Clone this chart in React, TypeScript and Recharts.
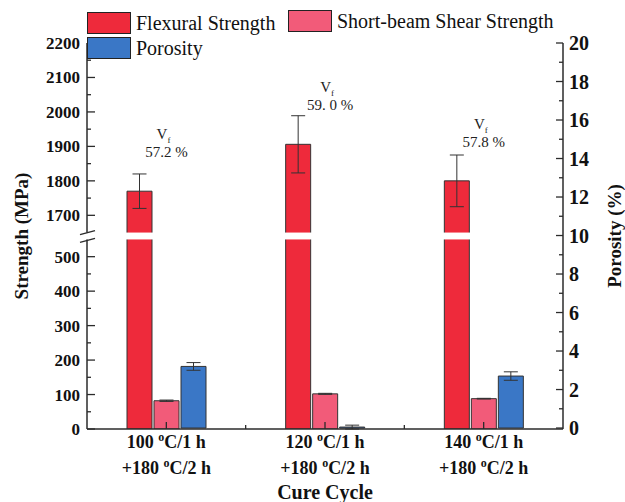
import {
  Bar,
  BarChart,
  ErrorBar,
  Label,
  LabelList,
  ReferenceArea,
  XAxis,
  YAxis,
} from "recharts";

const cycleStage1 = ["100 °C/1 h", "120 °C/1 h", "140 °C/1 h"];
const cycleStage2 = "+180 °C/2 h";
const flexural = [1770, 1906, 1800];
const flexuralErr = [50, 83, 75];
const shear = [82, 102, 88];
const shearErr = [2, 1.5, 1];
const porosity = [3.2, 0.05, 2.7];
const porosityErr = [0.2, 0.1, 0.22];
const fiberFraction = ["57.2 %", "59. 0 %", "57.8 %"];

const lowerTicks = [0, 100, 200, 300, 400, 500];
const upperTicks = [1700, 1800, 1900, 2000, 2100, 2200];
const porosityTicks = [0, 2, 4, 6, 8, 10, 12, 14, 16, 18, 20];

// broken axis: 0-550 | 1650-2200
const BREAK_LOW = 550;
const BREAK_HIGH = 1650;
const BREAK_GAP = 20;
const SHIFT = BREAK_HIGH - BREAK_LOW - BREAK_GAP;
const toPlot = (v: number) => (v <= BREAK_LOW ? v : v - SHIFT);
const fromPlot = (t: number) => (t <= BREAK_LOW ? t : t + SHIFT);

const W = 625;
const H = 502;
const LEFT_W = 87;
const RIGHT_W = 62;
const SERIF = '"Liberation Serif", "Times New Roman", serif';
const INK = "#2b2b2b";

const RED = "#ee2a3b";
const PINK = "#f25b79";
const BLUE = "#3a77c6";

const data = cycleStage1.map((c, i) => ({
  cycle: c,
  flex: toPlot(flexural[i]),
  flexErr: flexuralErr[i],
  shear: shear[i],
  shearErr: shearErr[i],
  poro: porosity[i],
  poroErr: porosityErr[i],
}));

const leftTicks: number[] = [];
for (let v = 0; v <= 500; v += 50) leftTicks.push(toPlot(v));
for (let v = 1700; v <= 2200; v += 50) leftTicks.push(toPlot(v));
const leftMajor = new Set([...lowerTicks, ...upperTicks].map(toPlot));

const rightTicks: number[] = [];
for (let v = 0; v <= 20; v += 1) rightTicks.push(v);
const rightMajor = new Set(porosityTicks);

function LeftTick({ x, y, payload }: any) {
  const major = leftMajor.has(payload.value);
  return (
    <g>
      <line x1={x} x2={x + (major ? 8 : 4)} y1={y} y2={y} stroke={INK} strokeWidth={1.3} />
      {major && (
        <text x={x - 7} y={y} dy={6} textAnchor="end" fontFamily={SERIF} fontWeight="bold" fontSize={17} fill="#111">
          {fromPlot(payload.value)}
        </text>
      )}
    </g>
  );
}

function RightTick({ x, y, payload }: any) {
  const major = rightMajor.has(payload.value);
  return (
    <g>
      <line x1={x} x2={x - (major ? 7 : 4)} y1={y} y2={y} stroke={INK} strokeWidth={1.3} />
      {major && (
        <text x={x + 6} y={y} dy={7} textAnchor="start" fontFamily={SERIF} fontWeight="bold" fontSize={20} fill="#111">
          {payload.value}
        </text>
      )}
    </g>
  );
}

function degreeText(s: string) {
  const [a, b] = s.split("°");
  return [
    <tspan key="a">{a}</tspan>,
    <tspan key="o" fontSize={12} dy={-7}>o</tspan>,
    <tspan key="b" dy={7}>{b}</tspan>,
  ];
}

function CycleTick({ x, y, payload, index }: any) {
  const band = (W - LEFT_W - RIGHT_W) / cycleStage1.length;
  return (
    <g>
      <line x1={x} x2={x} y1={y} y2={y - 7} stroke={INK} strokeWidth={1.3} />
      {index < cycleStage1.length - 1 && (
        <line x1={x + band / 2} x2={x + band / 2} y1={y} y2={y - 4} stroke={INK} strokeWidth={1.3} />
      )}
      <text x={x} y={y + 19} textAnchor="middle" fontFamily={SERIF} fontWeight="bold" fontSize={18} fill="#111">
        {degreeText(payload.value)}
      </text>
      <text x={x} y={y + 45} textAnchor="middle" fontFamily={SERIF} fontWeight="bold" fontSize={18} fill="#111">
        {degreeText(cycleStage2)}
      </text>
    </g>
  );
}

function FractionLabel({ x, y, width, index }: any) {
  const cx = x + width * 1.5 + 2 + (index === 1 ? 5 : 0);
  return (
    <g fontFamily={SERIF} fill="#222">
      <text x={cx - 3} y={y - 52} textAnchor="middle" fontSize={15}>
        V<tspan fontSize={9} dy={4}>f</tspan>
      </text>
      <text x={cx} y={y - 34} textAnchor="middle" fontSize={15}>
        {fiberFraction[index]}
      </text>
    </g>
  );
}

function BreakBand({ x, y, width, height }: any) {
  return (
    <g>
      <rect x={x - 5} y={y} width={width + 2} height={height} fill="#fff" />
      <line x1={x - 7} y1={y + 2} x2={x + 8} y2={y - 2} stroke={INK} strokeWidth={1.3} />
      <line x1={x - 7} y1={y + height + 3} x2={x + 8} y2={y + height - 1} stroke={INK} strokeWidth={1.3} />
    </g>
  );
}

const legendItems = [
  { name: "Flexural Strength", color: RED, left: 87, top: 12 },
  { name: "Short-beam Shear Strength", color: PINK, left: 288, top: 10 },
  { name: "Porosity", color: BLUE, left: 87, top: 37 },
];

export default function App() {
  return (
    <div style={{ position: "absolute", left: 0, top: 0, width: W, height: H, background: "#fff" }}>
      <BarChart
        width={W}
        height={H}
        data={data}
        margin={{ top: 43, right: 0, bottom: 0, left: 0 }}
        barSize={25}
        barGap={2}
      >
        <XAxis
          dataKey="cycle"
          height={73}
          tickSize={0}
          tickMargin={0}
          tick={<CycleTick />}
          stroke={INK}
          strokeWidth={1.5}
          interval={0}
        >
          <Label
            value="Cure Cycle"
            position="insideBottom"
            offset={3}
            style={{ fontFamily: SERIF, fontWeight: "bold", fontSize: 20, fill: "#111" }}
          />
        </XAxis>
        <YAxis
          yAxisId="left"
          width={LEFT_W}
          domain={[0, toPlot(2200)]}
          ticks={leftTicks}
          tickSize={0}
          tickMargin={0}
          tick={<LeftTick />}
          stroke={INK}
          strokeWidth={1.5}
          interval={0}
          allowDataOverflow
        >
          <Label
            value="Strength (MPa)"
            angle={-90}
            position="insideLeft"
            offset={21}
            style={{ fontFamily: SERIF, fontWeight: "bold", fontSize: 19, fill: "#111", textAnchor: "middle" }}
          />
        </YAxis>
        <YAxis
          yAxisId="right"
          orientation="right"
          width={RIGHT_W}
          domain={[0, 20]}
          ticks={rightTicks}
          tickSize={0}
          tickMargin={0}
          tick={<RightTick />}
          stroke={INK}
          strokeWidth={1.5}
          interval={0}
        >
          <Label
            value="Porosity (%)"
            angle={-90}
            position="insideRight"
            offset={11}
            style={{ fontFamily: SERIF, fontWeight: "bold", fontSize: 19, fill: "#111", textAnchor: "middle" }}
          />
        </YAxis>
        <Bar yAxisId="left" dataKey="flex" fill={RED} stroke="#333" strokeWidth={1} isAnimationActive={false}>
          <ErrorBar dataKey="flexErr" width={7} stroke="#333" strokeWidth={1} direction="y" />
          <LabelList dataKey="flex" content={<FractionLabel />} />
        </Bar>
        <Bar yAxisId="left" dataKey="shear" fill={PINK} stroke="#333" strokeWidth={1} isAnimationActive={false}>
          <ErrorBar dataKey="shearErr" width={7} stroke="#333" strokeWidth={1} direction="y" />
        </Bar>
        <Bar yAxisId="right" dataKey="poro" fill={BLUE} stroke="#333" strokeWidth={1} isAnimationActive={false}>
          <ErrorBar dataKey="poroErr" width={7} stroke="#333" strokeWidth={1} direction="y" />
        </Bar>
        <ReferenceArea
          yAxisId="left"
          y1={BREAK_LOW}
          y2={BREAK_LOW + BREAK_GAP}
          shape={<BreakBand />}
          zIndex={700}
          ifOverflow="visible"
        />
      </BarChart>
      {legendItems.map((it) => (
        <div
          key={it.name}
          style={{ position: "absolute", left: it.left, top: it.top, display: "flex", alignItems: "center" }}
        >
          <div
            style={{
              width: 42,
              height: 20,
              background: it.color,
              border: "1px solid #222",
              boxSizing: "content-box",
            }}
          />
          <span style={{ marginLeft: 5, fontFamily: SERIF, fontSize: 20, color: "#111", lineHeight: "22px" }}>
            {it.name}
          </span>
        </div>
      ))}
    </div>
  );
}
